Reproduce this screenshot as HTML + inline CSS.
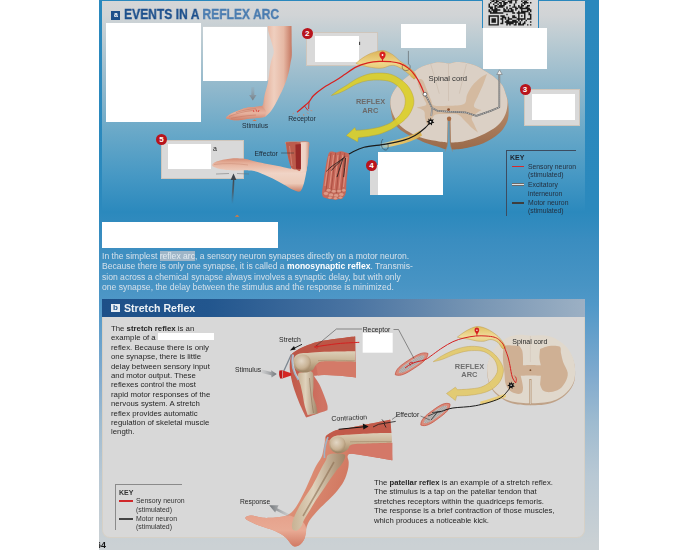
<!DOCTYPE html>
<html><head><meta charset="utf-8">
<style>
*{margin:0;padding:0;box-sizing:border-box}
html,body{width:700px;height:550px;overflow:hidden;background:#fff}
body{position:relative;font-family:"Liberation Sans",sans-serif}
.a{position:absolute}
.w{position:absolute;background:#fff}
.g{position:absolute;background:#d9d9d9;border:1px solid #cfc6bc}
.n{position:absolute;width:11px;height:11px;border-radius:50%;background:#b8141c;color:#fff;font-weight:bold;font-size:8px;line-height:11px;text-align:center}
.lbl{position:absolute;font-size:6.9px;color:#222;white-space:nowrap;line-height:1}
.t{position:absolute;white-space:nowrap;will-change:transform}
svg{will-change:transform}
</style></head><body>
<!-- panel outer -->
<div class="a" style="left:99px;top:0;width:500px;height:550px;background:linear-gradient(to bottom,#2a88bd 0,#2b89bd 212px,#3a8dc0 240px,#4894c4 285px,#5098c8 305px,#80aace 375px,#a0bcd0 425px,#b8c8d4 475px,#cbd1d4 545px)"></div>
<!-- top inner gradient -->
<div class="a" style="left:102px;top:1px;width:483px;height:212px;background:linear-gradient(to bottom,#d5d6d7 0,#d1d4d6 14px,#b8cad2 42px,#9abccd 76px,#68a8c8 132px,#4698c4 175px,#2b89bd 211px)"></div>

<!-- step 2 -->
<div class="g" style="left:305.5px;top:32px;width:72px;height:34px"></div>
<div class="w" style="left:315px;top:35.5px;width:44px;height:26px"></div>
<div class="n" style="left:301.7px;top:28.4px">2</div>
<!-- step 3 -->
<div class="g" style="left:524px;top:88.5px;width:56px;height:37px"></div>
<div class="w" style="left:531.5px;top:94px;width:43.5px;height:25.5px"></div>
<div class="n" style="left:519.5px;top:83.5px">3</div>
<!-- step 4 -->
<div class="a" style="left:370.3px;top:165px;width:8px;height:29.6px;background:#d9d9d9"></div>
<div class="w" style="left:378px;top:152px;width:64.5px;height:42.6px"></div>
<div class="n" style="left:365.9px;top:159.5px">4</div>
<!-- step 5 -->
<div class="g" style="left:161px;top:140px;width:83px;height:38.7px"></div>
<div class="w" style="left:167.7px;top:143.5px;width:43.7px;height:25.5px"></div>
<div class="n" style="left:155.9px;top:134.4px">5</div>
<div class="t" style="left:213px;top:145px;font-size:7px;color:#222">a</div>
<!-- TOP ILLUSTRATION -->
<svg class="a" style="left:0;top:0" width="700" height="550" viewBox="0 0 700 550">
<defs>
<linearGradient id="skin1" gradientUnits="userSpaceOnUse" x1="262" y1="0" x2="292" y2="0">
<stop offset="0" stop-color="#d99a84"/><stop offset="0.12" stop-color="#e6b39e"/><stop offset="0.4" stop-color="#efcfbf"/><stop offset="0.72" stop-color="#e6b8a4"/><stop offset="1" stop-color="#c47660"/>
</linearGradient>
<linearGradient id="hand1" gradientUnits="userSpaceOnUse" x1="0" y1="106" x2="0" y2="120">
<stop offset="0" stop-color="#d8907a"/><stop offset="0.5" stop-color="#e8b4a0"/><stop offset="1" stop-color="#d0806a"/>
</linearGradient>
<linearGradient id="skin2" gradientUnits="userSpaceOnUse" x1="0" y1="158" x2="0" y2="192">
<stop offset="0" stop-color="#d48a72"/><stop offset="0.15" stop-color="#e6b09a"/><stop offset="0.45" stop-color="#f0d4c6"/><stop offset="0.75" stop-color="#eccab8"/><stop offset="1" stop-color="#c87c64"/>
</linearGradient>
<linearGradient id="uarm2" gradientUnits="userSpaceOnUse" x1="298" y1="0" x2="310" y2="0">
<stop offset="0" stop-color="#f0d8cc"/><stop offset="0.6" stop-color="#eed2c4"/><stop offset="1" stop-color="#c88a74"/>
</linearGradient>
<linearGradient id="cordside" x1="0" y1="0" x2="0" y2="1">
<stop offset="0" stop-color="#c4a284"/><stop offset="0.6" stop-color="#b08464"/><stop offset="1" stop-color="#9a6a4a"/>
</linearGradient>
<linearGradient id="garrow" x1="0" y1="0" x2="0" y2="1">
<stop offset="0" stop-color="#9aa0a6" stop-opacity="0.2"/><stop offset="1" stop-color="#767c82"/>
</linearGradient>
<linearGradient id="uparrow" x1="0" y1="1" x2="0" y2="0">
<stop offset="0" stop-color="#4c545c" stop-opacity="0"/><stop offset="0.5" stop-color="#4c545c" stop-opacity="0.8"/><stop offset="1" stop-color="#3c444c"/>
</linearGradient>
<linearGradient id="gang" x1="0" y1="0" x2="0" y2="1">
<stop offset="0" stop-color="#dcb458"/><stop offset="0.45" stop-color="#eed68a"/><stop offset="1" stop-color="#d8b050"/>
</linearGradient>
<linearGradient id="vroot" x1="0" y1="0" x2="1" y2="0">
<stop offset="0" stop-color="#f0e8c8" stop-opacity="0.2"/><stop offset="0.3" stop-color="#e8c870"/><stop offset="1" stop-color="#d8b050"/>
</linearGradient>
</defs>
<!-- arm 1 -->
<rect x="203" y="26.5" width="80" height="54" fill="#d5d5d5"/>
<path d="M267.7 26.0 C267.7 26.0 291.5 26.0 291.5 26.0 C291.5 26.0 291.6 31.3 291.6 34.0 C291.6 36.7 291.6 38.5 291.6 42.0 C291.6 45.5 292.0 51.5 291.8 55.0 C291.6 58.5 290.9 60.5 290.5 63.0 C290.1 65.5 289.8 67.7 289.3 70.0 C288.8 72.3 288.1 74.7 287.4 77.0 C286.7 79.3 285.9 81.7 285.0 84.0 C284.1 86.3 283.0 88.9 282.0 91.0 C281.0 93.1 280.2 94.6 279.1 96.7 C278.1 98.8 277.0 101.3 275.7 103.6 C274.4 105.9 273.1 108.3 271.4 110.4 C269.7 112.5 267.5 115.2 265.4 116.4 C263.3 117.6 261.2 117.3 258.6 117.7 C256.0 118.1 252.9 118.2 250.0 118.6 C247.1 119.0 244.1 119.6 241.4 119.9 C238.7 120.2 235.8 120.5 233.7 120.3 C231.6 120.1 229.9 119.4 228.6 119.0 C227.3 118.6 225.7 118.5 226.0 117.7 C226.3 116.9 228.5 115.0 230.3 113.9 C232.2 112.8 234.5 111.9 237.1 110.9 C239.7 109.9 242.8 108.6 245.7 107.9 C248.6 107.2 251.6 107.3 254.3 107.0 C257.0 106.7 260.4 107.2 262.0 106.1 C263.6 104.9 263.3 101.9 263.7 100.1 C264.1 98.2 264.1 97.0 264.6 95.0 C265.1 93.0 265.9 90.2 266.5 88.0 C267.1 85.8 267.6 84.2 268.0 82.0 C268.4 79.8 268.7 77.5 269.0 75.0 C269.3 72.5 269.6 69.5 270.0 67.0 C270.4 64.5 270.9 62.6 271.5 60.0 C272.1 57.4 273.9 54.8 273.8 51.5 C273.7 48.2 271.8 43.2 270.9 40.0 C270.0 36.8 269.0 34.3 268.5 32.0 C268.0 29.7 267.7 26.0 267.7 26.0Z" fill="url(#skin1)"/>
<path d="M262.0 106.1 C262.0 106.1 257.0 106.7 254.3 107.0 C251.6 107.3 248.6 107.2 245.7 107.9 C242.8 108.6 239.7 109.9 237.1 110.9 C234.5 111.9 232.2 112.8 230.3 113.9 C228.5 115.0 226.3 116.9 226.0 117.7 C225.7 118.5 227.3 118.6 228.6 119.0 C229.9 119.4 231.6 120.1 233.7 120.3 C235.8 120.5 238.7 120.2 241.4 119.9 C244.1 119.6 247.1 119.0 250.0 118.6 C252.9 118.2 256.0 118.1 258.6 117.7 C261.2 117.3 265.4 116.4 265.4 116.4 C265.4 116.4 266.0 111.0 266.0 111.0 C266.0 111.0 262.0 106.1 262.0 106.1Z" fill="url(#hand1)"/>
<path d="M229 116.5 C236 113.5 244 111.5 252 110.5 M231 118.3 C240 116.5 248 115.5 256 115 M236 112.6 C243 110 250 109 256 108.6" stroke="#c0705a" stroke-width="0.45" fill="none"/>
<path d="M253 110 l1 2 M256 109.5 l0.8 2.2 M259 110 l-0.8 2" stroke="#d83030" stroke-width="0.8"/>
<path d="M252.3 121 l4.6 0 l-2.3 -1.6z" fill="#d87040"/>
<!-- gray down arrow -->
<path d="M251.3 87 h3 v8 h2.2 l-3.7 5.5 l-3.7 -5.5 h2.2z" fill="url(#garrow)"/>
<!-- spinal cord 3D -->
<path d="M390.6 99.0 C390.0 102.3 390.2 106.0 390.8 110.0 C391.4 114.0 392.2 119.2 394.3 122.9 C396.4 126.6 399.0 129.0 403.6 132.1 C408.2 135.2 416.2 138.9 422.1 141.4 C428.0 143.9 434.9 145.7 438.9 147.0 C442.9 148.3 444.6 149.3 446.3 149.5 C448.0 149.7 448.4 148.0 449.3 148.0 C450.2 148.0 449.0 149.5 451.9 149.5 C454.8 149.5 461.4 148.9 466.7 147.9 C471.9 146.9 478.1 145.6 483.4 143.3 C488.7 141.0 494.6 137.1 498.3 134.0 C502.0 130.9 504.0 127.8 505.7 124.7 C507.4 121.6 508.1 119.2 508.5 115.4 C508.9 111.6 508.5 105.6 508.0 102.0 C507.5 98.4 506.7 96.8 505.7 94.0 C504.7 91.2 504.1 88.0 502.1 85.1 C500.1 82.2 496.5 79.0 493.6 76.6 C490.8 74.2 487.9 72.7 485.0 70.9 C482.1 69.1 479.5 67.2 476.4 65.9 C473.3 64.6 469.7 63.6 466.4 63.0 C463.1 62.4 459.3 61.9 456.4 62.0 C453.5 62.1 451.9 63.5 449.0 63.5 C446.1 63.5 442.4 62.3 439.3 62.3 C436.2 62.3 433.6 63.0 430.7 63.7 C427.8 64.4 424.7 65.4 422.1 66.6 C419.5 67.8 417.1 69.5 415.0 70.9 C412.9 72.3 411.6 73.2 409.3 75.1 C407.0 76.9 403.5 79.5 401.0 82.0 C398.5 84.5 396.2 87.2 394.5 90.0 C392.8 92.8 391.2 95.7 390.6 99.0Z" fill="url(#cordside)"/>
<path d="M390.6 99.0 C390.1 102.3 390.3 105.9 391.5 109.9 C392.7 113.9 395.1 119.2 398.0 122.9 C400.9 126.6 404.8 129.5 409.1 132.1 C413.4 134.7 419.0 137.0 424.0 138.6 C429.0 140.2 435.0 140.8 438.9 141.4 C442.8 142.0 447.5 142.4 447.5 142.4 C447.5 142.4 447.8 118.0 447.8 118.0 C447.8 118.0 450.5 118.0 450.5 118.0 C450.5 118.0 450.9 142.4 450.9 142.4 C450.9 142.4 458.5 142.3 463.0 141.4 C467.5 140.5 473.3 138.7 477.9 136.8 C482.5 135.0 487.1 132.6 490.8 130.3 C494.5 128.0 497.6 125.7 500.1 122.9 C502.6 120.1 504.4 117.0 505.7 113.6 C506.9 110.2 507.6 105.7 507.6 102.4 C507.6 99.1 506.6 96.9 505.7 94.0 C504.8 91.1 504.1 88.0 502.1 85.1 C500.1 82.2 496.5 79.0 493.6 76.6 C490.8 74.2 487.9 72.7 485.0 70.9 C482.1 69.1 479.5 67.2 476.4 65.9 C473.3 64.6 469.7 63.6 466.4 63.0 C463.1 62.4 459.3 61.9 456.4 62.0 C453.5 62.1 451.9 63.5 449.0 63.5 C446.1 63.5 442.4 62.3 439.3 62.3 C436.2 62.3 433.6 63.0 430.7 63.7 C427.8 64.4 424.7 65.4 422.1 66.6 C419.5 67.8 417.1 69.5 415.0 70.9 C412.9 72.3 411.6 73.2 409.3 75.1 C407.0 76.9 403.5 79.5 401.0 82.0 C398.5 84.5 396.2 87.2 394.5 90.0 C392.8 92.8 391.1 95.7 390.6 99.0Z" fill="#dbd0c5"/>
<path d="M419.5 79.0 C419.5 79.0 421.8 78.7 423.0 80.5 C424.2 82.3 425.7 86.8 427.0 90.0 C428.3 93.2 429.8 97.4 431.0 100.0 C432.2 102.6 431.0 104.5 434.0 105.5 C437.0 106.5 444.0 106.0 449.0 105.8 C454.0 105.5 461.0 105.8 464.0 104.0 C467.0 102.2 465.7 98.0 467.0 95.0 C468.3 92.0 469.8 88.8 472.0 86.0 C474.2 83.2 477.5 80.0 480.0 78.0 C482.5 76.0 487.0 74.0 487.0 74.0 C487.0 74.0 484.5 81.3 483.0 85.0 C481.5 88.7 479.5 92.4 478.0 96.0 C476.5 99.6 473.4 104.2 474.0 106.5 C474.6 108.8 481.5 110.0 481.5 110.0 C481.5 110.0 473.2 114.7 472.0 117.0 C470.8 119.3 473.0 121.4 474.0 124.0 C475.0 126.6 478.0 132.5 478.0 132.5 C478.0 132.5 474.2 129.9 472.0 128.0 C469.8 126.1 467.3 123.2 465.0 121.0 C462.7 118.8 460.7 115.7 458.0 114.5 C455.3 113.3 452.7 114.0 449.0 114.0 C445.3 114.0 438.8 113.7 436.0 114.5 C433.2 115.3 433.4 117.1 432.0 119.0 C430.6 120.9 427.5 126.0 427.5 126.0 C427.5 126.0 425.6 120.5 425.0 118.0 C424.4 115.5 425.4 112.8 424.0 111.0 C422.6 109.2 416.5 107.5 416.5 107.5 C416.5 107.5 424.7 106.2 426.0 105.0 C427.3 103.8 425.3 102.2 424.5 100.0 C423.7 97.8 422.2 95.0 421.0 92.0 C419.8 89.0 417.8 84.2 417.5 82.0 C417.2 79.8 419.5 79.0 419.5 79.0Z" fill="#d2b496" opacity="0.8"/>
<path d="M430.7 64 L439.3 93.7 M448.5 64 L448.5 101 M466.4 64 L459.3 93.7" stroke="#c6b6a6" stroke-width="0.5"/>
<circle cx="448.6" cy="109.6" r="1.4" fill="#8a5030"/>
<ellipse cx="449.1" cy="118.8" rx="2.2" ry="2.4" fill="#a86c44"/>
<path d="M448.1 121 L449.7 121 L450 142 L450.8 146.5 L452.6 151.5 L445.2 151.5 L447 146.5 L447.7 142 Z" fill="#5ca2c8"/>
<path d="M452.6 151.5 L450.8 146.5 L450 142 L449.7 121 M448.1 121 L447.7 142 L447 146.5 L445.2 151.5" stroke="#a88060" stroke-width="0.5" fill="none"/>
<!-- dorsal root ganglion -->
<path d="M355.9 63.4 C355.9 63.4 359.7 59.9 362.1 58.3 C364.5 56.7 367.2 54.9 370.1 53.7 C373.0 52.5 376.8 51.4 379.3 50.9 C381.8 50.4 382.7 50.2 385.0 50.9 C387.3 51.6 390.5 53.2 393.0 54.9 C395.5 56.6 397.6 59.3 399.9 61.1 C402.2 62.9 404.6 64.2 406.7 65.7 C408.8 67.2 410.8 68.7 412.4 70.3 C413.9 71.9 415.7 74.0 416.0 75.5 C416.3 77.0 415.2 79.2 414.0 79.0 C412.8 78.8 411.0 76.0 409.0 74.3 C407.0 72.6 404.4 70.5 402.1 69.1 C399.8 67.7 397.4 66.3 395.3 65.7 C393.2 65.1 391.3 65.4 389.6 65.7 C387.9 66.0 386.7 67.0 385.0 67.4 C383.3 67.8 381.6 68.3 379.3 68.3 C377.0 68.3 374.0 67.8 371.3 67.4 C368.6 67.0 365.9 66.4 363.3 65.7 C360.7 65.0 355.9 63.4 355.9 63.4Z" fill="url(#gang)" stroke="#c49a46" stroke-width="0.5"/>
<rect x="359.2" y="41.8" width="0.9" height="3.2" fill="#222"/>
<path d="M408.4 50.9 L408.4 64.6 M403 64 C401 68 403 71 407 70.5 C410 70 411 67 409.5 64.5" stroke="#444" stroke-width="0.5" fill="none"/>
<!-- ventral root -->
<path d="M380 143.5 C390 141.5 400 139 409 136 C413 134.5 417 132.5 420 130.5 L422 135.5 C418 138 414 140 410 141.5 C401 144.5 391 147 380 148.5 Z" fill="url(#vroot)"/>
<path d="M383 139 C380 142 381 149 385 150 C388 150.5 389 147 387.5 143" stroke="#333" stroke-width="0.5" fill="none"/>
<!-- yellow arc -->
<path d="M331.4 95.5 C331.4 95.5 335.7 92.0 338.0 90.5 C340.3 89.0 341.9 88.2 345.0 86.3 C348.1 84.4 352.6 80.9 356.4 78.9 C360.2 76.9 364.1 75.3 367.9 74.3 C371.7 73.3 375.5 73.1 379.3 73.1 C383.1 73.1 387.3 73.3 390.7 74.3 C394.1 75.3 397.2 77.2 399.9 78.9 C402.6 80.6 404.8 82.5 406.7 84.6 C408.6 86.7 410.1 89.1 411.3 91.4 C412.5 93.7 413.2 96.4 413.6 98.3 C414.0 100.2 413.9 101.7 413.8 103.0 C413.7 104.3 413.6 105.0 413.1 106.4 C412.6 107.8 411.8 110.0 411.0 111.5 C410.2 113.0 409.5 114.3 408.6 115.6 C407.7 116.8 406.6 117.9 405.5 119.0 C404.4 120.1 403.2 121.2 401.7 122.4 C400.2 123.6 398.2 124.8 396.5 126.0 C394.8 127.2 393.2 128.3 391.4 129.3 C389.6 130.3 387.6 131.0 385.7 131.8 C383.8 132.6 381.9 133.3 380.0 133.9 C378.1 134.5 376.2 134.9 374.3 135.3 C372.4 135.7 370.4 136.1 368.6 136.4 C366.8 136.7 365.2 136.8 363.5 137.0 C361.8 137.2 358.3 137.5 358.3 137.5 C358.3 137.5 357.7 141.9 357.7 141.9 C357.7 141.9 346.3 135.6 346.3 135.6 C346.3 135.6 354.9 127.6 354.9 127.6 C354.9 127.6 356.0 130.4 356.0 130.4 C356.0 130.4 359.9 130.2 362.0 130.0 C364.1 129.8 366.6 129.6 368.6 129.3 C370.7 129.0 372.4 128.7 374.3 128.3 C376.2 127.9 378.2 127.5 380.0 127.0 C381.8 126.5 383.5 125.9 385.2 125.2 C386.9 124.5 388.7 124.0 390.3 123.0 C391.9 122.0 393.5 120.7 395.0 119.5 C396.5 118.3 398.1 117.0 399.4 115.6 C400.6 114.2 401.6 112.5 402.5 111.0 C403.4 109.5 404.1 108.2 404.6 106.4 C405.1 104.7 405.3 102.2 405.3 100.5 C405.3 98.8 405.0 97.4 404.5 96.0 C404.0 94.6 403.5 93.5 402.5 92.0 C401.5 90.5 400.7 88.6 398.7 86.9 C396.7 85.2 393.9 82.9 390.7 81.7 C387.5 80.5 383.1 80.2 379.3 80.0 C375.5 79.8 371.7 79.9 367.9 80.6 C364.1 81.3 360.2 82.4 356.4 84.0 C352.6 85.6 348.1 88.7 345.0 90.3 C341.9 91.9 340.3 92.6 338.0 93.5 C335.7 94.4 331.4 95.5 331.4 95.5Z" fill="#dccf2c" stroke="#b8a028" stroke-width="0.5" opacity="0.93"/>
<!-- sensory line (red) -->
<path d="M297.0 112.3 C297.8 111.6 300.0 109.8 302.0 108.0 C304.0 106.2 307.1 103.9 309.0 101.8 C310.9 99.7 311.3 97.8 313.6 95.5 C315.9 93.2 318.9 90.8 322.7 88.2 C326.5 85.6 332.7 82.3 336.4 80.0 C340.1 77.7 341.7 76.5 345.0 74.3 C348.3 72.1 352.6 68.8 356.4 66.9 C360.2 65.0 364.1 63.8 367.9 62.9 C371.7 62.0 375.5 61.6 379.3 61.4 C383.1 61.2 387.3 61.4 390.7 61.7 C394.1 62.0 396.8 62.2 399.9 63.4 C402.9 64.5 406.3 66.4 409.0 68.6 C411.7 70.8 414.0 73.9 415.9 76.6 C417.8 79.3 419.0 81.9 420.4 84.6 C421.8 87.3 423.4 91.6 424.0 93.0" stroke="#d8201e" stroke-width="1.2" fill="none"/>
<path d="M304.5 106 L308 110.5 M309 101.8 L308.6 109" stroke="#d8201e" stroke-width="0.9" fill="none"/>
<path d="M294 113 l-1.5 1 M299 114 l-0.3 2 M303.5 114 l0.5 2 M307 112.5 l1.5 1.5 M310.5 110.5 l1.8 0.3" stroke="#d88060" stroke-width="0.7"/>
<path d="M382.5 61.4 L382.5 58" stroke="#d8201e" stroke-width="1"/>
<path d="M382.5 51.6 C385.8 51.6 386.3 55.4 384.7 57.5 L382.5 60.3 L380.3 57.5 C378.7 55.4 379.2 51.6 382.5 51.6 Z" fill="#d8201e"/>
<circle cx="382.5" cy="55" r="0.9" fill="#fff"/>
<!-- interneuron -->
<path d="M425 94.4 L427.9 99.4 L432.1 108 L437.9 110.9 L447.9 111.6 L465 112.3 L476.4 115.9 L490.7 110.9 L499.3 107.3 L499.3 73.5" stroke="#6a6a6a" stroke-width="1.7" fill="none" stroke-linejoin="round"/>
<path d="M425 94.4 L427.9 99.4 L432.1 108 L437.9 110.9 L447.9 111.6 L465 112.3 L476.4 115.9 L490.7 110.9 L499.3 107.3 L499.3 73.5" stroke="#dcdcdc" stroke-width="0.7" fill="none" stroke-dasharray="1.3 0.7" stroke-linejoin="round"/>
<path d="M432.1 108 L431.3 116" stroke="#6a6a6a" stroke-width="1.6"/>
<path d="M432.1 108 L431.3 116" stroke="#ddd" stroke-width="0.6"/>
<path d="M496.8 74.5 L499.5 69.8 L502.2 74.5 Z" fill="#eee" stroke="#666" stroke-width="0.5"/>
<circle cx="425" cy="94.2" r="1.9" fill="#fff" stroke="#333" stroke-width="0.6"/>
<!-- motor neuron -->
<path d="M430.5 121.8 C429.6 122.8 427.6 125.7 425.0 128.0 C422.4 130.3 418.5 133.5 415.0 135.5 C411.5 137.5 408.9 138.7 404.0 140.1 C399.1 141.5 392.4 142.9 385.7 144.1 C379.0 145.3 369.8 145.8 364.0 147.3 C358.2 148.8 354.0 151.4 350.9 152.9 C347.8 154.4 346.1 156.0 345.2 156.6" stroke="#1a1a1a" stroke-width="1.1" fill="none"/>
<!-- muscle bundle -->
<path d="M328.5 154.0 C329.6 151.2 330.7 151.8 332.0 151.5 C333.3 151.2 335.1 152.6 336.5 152.5 C337.9 152.4 339.1 151.2 340.5 151.2 C341.9 151.1 343.5 151.6 345.0 152.2 C346.5 152.8 348.8 152.4 349.3 155.0 C349.8 157.6 348.5 163.5 348.0 168.0 C347.5 172.5 346.9 177.7 346.5 182.0 C346.1 186.3 346.4 191.2 345.5 194.0 C344.6 196.8 342.9 197.7 341.0 198.6 C339.1 199.5 336.3 199.2 334.0 199.2 C331.7 199.2 328.9 199.2 327.0 198.5 C325.1 197.8 322.9 197.8 322.3 195.0 C321.7 192.2 323.0 186.5 323.5 182.0 C324.0 177.5 324.7 172.7 325.5 168.0 C326.3 163.3 327.4 156.8 328.5 154.0Z" fill="#c8685a"/>
<path d="M331 153 L325.5 194 M335.7 152.6 L330.5 196 M340.3 152 L336 197 M344.8 153 L341 196.5" stroke="#a44a3c" stroke-width="0.8"/>
<path d="M329.2 156 L325 186 M333.6 155 L329.5 188 M338 155 L334 189 M342.7 155 L339 189 M347 157 L343.5 187" stroke="#e29c8a" stroke-width="1.1" opacity="0.8"/>
<g fill="#de9a88" stroke="#b05a4a" stroke-width="0.4">
<ellipse cx="326" cy="193.5" rx="2.6" ry="2"/><ellipse cx="331" cy="195" rx="2.6" ry="2"/><ellipse cx="336.2" cy="195.6" rx="2.6" ry="2"/><ellipse cx="341.3" cy="194.6" rx="2.6" ry="2"/>
<ellipse cx="328.6" cy="190.2" rx="2.4" ry="1.8"/><ellipse cx="333.8" cy="191.2" rx="2.4" ry="1.8"/><ellipse cx="339" cy="191" rx="2.4" ry="1.8"/><ellipse cx="343.8" cy="190.3" rx="2.2" ry="1.7"/>
<ellipse cx="330" cy="197.6" rx="2.2" ry="1.5"/><ellipse cx="335.5" cy="198.2" rx="2.2" ry="1.5"/><ellipse cx="340.5" cy="197.5" rx="2.2" ry="1.5"/>
</g>
<path d="M345.2 156.6 C344.0 157.5 340.4 160.3 338.0 162.0 C335.6 163.7 332.9 165.4 331.0 167.0 C329.1 168.6 327.2 170.7 326.4 171.4 M343.5 158 C339 163 334 167 331.3 170.6 M343 158.5 C341 164 339 171 337 177.1 M345.5 158 C345 164 344.5 171 343.6 177.1" stroke="#1a1a1a" stroke-width="0.8" fill="none"/>
<path d="M430.5 117.6 l1 2.1 l2.3 -0.5 l-1.1 2 l1.7 1.6 l-2.3 0.5 l-0.2 2.3 l-1.5 -1.7 l-2 1.1 l0.2 -2.3 l-2.1 -0.9 l2.1 -1 l-0.3 -2.3 l1.8 1.4z" fill="#111"/>
<circle cx="430.5" cy="121.8" r="0.9" fill="#fff"/>
<!-- arm 2 -->
<path d="M285.8 142.1 C287.6 141.4 293.2 141.6 297.0 141.6 C300.8 141.6 306.8 140.7 308.7 142.1 C310.6 143.5 308.7 147.6 308.6 150.0 C308.5 152.4 308.4 154.5 308.2 156.8 C308.0 159.1 307.8 161.6 307.5 164.0 C307.2 166.4 307.0 168.0 306.5 171.0 C306.0 174.0 305.1 178.8 304.3 181.9 C303.5 185.0 302.5 187.9 301.6 189.5 C300.7 191.1 300.4 191.7 298.9 191.7 C297.3 191.7 294.9 190.7 292.3 189.5 C289.8 188.3 286.9 186.4 283.6 184.6 C280.3 182.8 276.3 180.4 272.7 178.6 C269.1 176.8 264.9 175.0 261.8 173.7 C258.7 172.4 256.4 171.6 254.2 171.0 C252.0 170.4 250.7 170.5 248.7 170.4 C246.7 170.3 244.1 170.4 242.0 170.4 C239.9 170.4 238.7 170.5 236.0 170.4 C233.3 170.3 229.2 170.3 226.0 169.9 C222.8 169.5 219.3 168.9 217.0 168.2 C214.7 167.5 212.7 166.7 212.3 165.8 C211.9 164.9 213.1 163.5 214.4 162.6 C215.7 161.7 218.1 161.1 220.0 160.6 C221.9 160.1 223.8 159.7 226.0 159.3 C228.2 158.9 231.0 158.4 233.3 158.3 C235.6 158.2 237.9 158.4 240.0 158.5 C242.1 158.6 244.2 158.6 246.0 158.9 C247.8 159.2 248.9 159.7 250.6 160.2 C252.3 160.7 253.6 161.1 256.4 161.7 C259.2 162.3 263.7 163.2 267.3 163.9 C270.9 164.6 274.8 165.4 278.2 166.1 C281.6 166.8 285.8 168.0 288.0 168.3 C290.2 168.6 291.3 169.6 291.3 167.7 C291.3 165.8 288.8 160.4 288.0 156.8 C287.2 153.2 286.7 148.4 286.3 145.9 C285.9 143.4 284.0 142.8 285.8 142.1Z" fill="url(#skin2)"/>
<path d="M300.5 142.2 L308.7 142.1 L308.5 156.8 L306.5 171 L300.5 172 Z" fill="url(#uarm2)"/>
<path d="M286.0 142.3 C286.0 142.3 290.6 142.0 293.0 142.0 C295.4 142.0 300.5 142.3 300.5 142.3 C300.5 142.3 300.8 151.4 300.8 156.0 C300.8 160.6 301.3 167.8 300.5 170.0 C299.7 172.2 297.5 169.9 296.0 169.5 C294.5 169.1 292.6 169.8 291.3 167.7 C290.0 165.6 288.8 160.4 288.0 156.8 C287.2 153.2 286.6 148.3 286.3 145.9 C286.0 143.5 286.0 142.3 286.0 142.3Z" fill="#bc5c4c"/>
<path d="M295.4 144.4 L300.9 144 L300.9 169 L296 168.8 Z" fill="#982a28"/>
<path d="M289.5 146 L292 166" stroke="#d88878" stroke-width="0.8"/>
<path d="M214 164.5 C225 163 238 163.5 248 165" stroke="#c88a74" stroke-width="0.5" fill="none"/>
<!-- effector leader -->
<path d="M281 153 L294 153" stroke="#333" stroke-width="0.5"/>
<!-- dashes + up arrow -->
<path d="M216 174 L229 173.5 M237 173.5 L249 174" stroke="#6a6a6a" stroke-width="0.5"/>
<path d="M231.7 204 C231.5 196 232.5 186 233 179 L234.3 179 C234.4 186 233.4 196 233.2 204 Z" fill="url(#uparrow)"/>
<path d="M230.6 180 L233.5 173.5 L236.4 180 Z" fill="#3c444c"/>
<path d="M234.8 216.8 l4.6 0 l-2.3 -2z" fill="#e07a3a"/>
<!-- labels -->
<g font-family="Liberation Sans" fill="#1e2a36">
<text x="242" y="127.8" font-size="6.8">Stimulus</text>
<text x="288.2" y="120.5" font-size="6.8">Receptor</text>
<text x="254.4" y="155.5" font-size="6.86">Effector</text>
<text x="428.6" y="80.9" font-size="7.7" fill="#333">Spinal cord</text>
</g>
<g font-family="Liberation Sans" font-weight="bold" fill="#6c6a6a" font-size="7.4" text-anchor="middle">
<text x="370.5" y="104.4">REFLEX</text>
<text x="370.3" y="112.7">ARC</text>
</g>
</svg>

<!-- title -->
<div class="a" style="left:111px;top:11px;width:9px;height:8.5px;background:#1d4f8b"></div>
<div class="t" style="left:113.5px;top:11px;font-size:7px;color:#fff;font-weight:bold;line-height:8px">a</div>
<div class="t" style="left:123.6px;top:4.6px;font-size:15.3px;font-weight:bold;line-height:17px;transform-origin:0 0;transform:scaleX(0.79);color:#1c4f8c;-webkit-text-stroke:0.35px #1c4f8c">EVENTS IN A <span style="color:#4a7cb0;-webkit-text-stroke:0.35px #4a7cb0">REFLEX ARC</span></div>
<!-- QR -->
<div class="a" style="left:482px;top:0;width:57px;height:27.5px;background:#d8d8d8;border-left:1.5px solid #2a88c0;border-right:1.5px solid #2a88c0"></div>
<svg class="a" style="left:0;top:0" width="700" height="40" viewBox="0 0 700 40"><path d="M489.98 -1.02h1.48v1.48h-1.48zM492.94 -1.02h4.44v1.48h-4.44zM498.86 -1.02h2.96v1.48h-2.96zM504.78 -1.02h1.48v1.48h-1.48zM510.70 -1.02h7.40v1.48h-7.40zM522.54 -1.02h1.48v1.48h-1.48zM526.98 -1.02h1.48v1.48h-1.48zM491.46 0.46h2.96v1.48h-2.96zM495.90 0.46h2.96v1.48h-2.96zM501.82 0.46h2.96v1.48h-2.96zM507.74 0.46h4.44v1.48h-4.44zM515.14 0.46h1.48v1.48h-1.48zM521.06 0.46h1.48v1.48h-1.48zM524.02 0.46h2.96v1.48h-2.96zM489.98 1.94h1.48v1.48h-1.48zM494.42 1.94h2.96v1.48h-2.96zM498.86 1.94h2.96v1.48h-2.96zM503.30 1.94h4.44v1.48h-4.44zM509.22 1.94h2.96v1.48h-2.96zM515.14 1.94h1.48v1.48h-1.48zM522.54 1.94h5.92v1.48h-5.92zM529.94 1.94h1.48v1.48h-1.48zM488.50 3.42h1.48v1.48h-1.48zM492.94 3.42h1.48v1.48h-1.48zM497.38 3.42h1.48v1.48h-1.48zM500.34 3.42h1.48v1.48h-1.48zM503.30 3.42h2.96v1.48h-2.96zM513.66 3.42h1.48v1.48h-1.48zM521.06 3.42h1.48v1.48h-1.48zM524.02 3.42h1.48v1.48h-1.48zM488.50 4.90h1.48v1.48h-1.48zM494.42 4.90h2.96v1.48h-2.96zM498.86 4.90h5.92v1.48h-5.92zM509.22 4.90h1.48v1.48h-1.48zM513.66 4.90h1.48v1.48h-1.48zM518.10 4.90h1.48v1.48h-1.48zM521.06 4.90h2.96v1.48h-2.96zM526.98 4.90h2.96v1.48h-2.96zM488.50 6.38h4.44v1.48h-4.44zM494.42 6.38h1.48v1.48h-1.48zM497.38 6.38h5.92v1.48h-5.92zM506.26 6.38h1.48v1.48h-1.48zM512.18 6.38h4.44v1.48h-4.44zM518.10 6.38h4.44v1.48h-4.44zM525.50 6.38h2.96v1.48h-2.96zM489.98 7.86h2.96v1.48h-2.96zM494.42 7.86h2.96v1.48h-2.96zM503.30 7.86h1.48v1.48h-1.48zM506.26 7.86h1.48v1.48h-1.48zM509.22 7.86h2.96v1.48h-2.96zM515.14 7.86h2.96v1.48h-2.96zM519.58 7.86h10.36v1.48h-10.36zM488.50 9.34h1.48v1.48h-1.48zM491.46 9.34h8.88v1.48h-8.88zM503.30 9.34h2.96v1.48h-2.96zM507.74 9.34h1.48v1.48h-1.48zM510.70 9.34h2.96v1.48h-2.96zM515.14 9.34h1.48v1.48h-1.48zM521.06 9.34h1.48v1.48h-1.48zM526.98 9.34h4.44v1.48h-4.44zM488.50 10.82h2.96v1.48h-2.96zM492.94 10.82h4.44v1.48h-4.44zM503.30 10.82h10.36v1.48h-10.36zM518.10 10.82h1.48v1.48h-1.48zM521.06 10.82h7.40v1.48h-7.40zM529.94 10.82h1.48v1.48h-1.48zM489.98 12.30h13.32v1.48h-13.32zM512.18 12.30h2.96v1.48h-2.96zM516.62 12.30h8.88v1.48h-8.88zM528.46 12.30h1.48v1.48h-1.48zM506.26 13.78h1.48v1.48h-1.48zM518.10 13.78h1.48v1.48h-1.48zM524.02 13.78h1.48v1.48h-1.48zM528.46 13.78h2.96v1.48h-2.96zM488.50 15.26h10.36v1.48h-10.36zM500.34 15.26h4.44v1.48h-4.44zM512.18 15.26h2.96v1.48h-2.96zM518.10 15.26h1.48v1.48h-1.48zM521.06 15.26h1.48v1.48h-1.48zM524.02 15.26h1.48v1.48h-1.48zM529.94 15.26h1.48v1.48h-1.48zM488.50 16.74h1.48v1.48h-1.48zM497.38 16.74h1.48v1.48h-1.48zM501.82 16.74h4.44v1.48h-4.44zM507.74 16.74h1.48v1.48h-1.48zM512.18 16.74h4.44v1.48h-4.44zM518.10 16.74h1.48v1.48h-1.48zM524.02 16.74h1.48v1.48h-1.48zM529.94 16.74h1.48v1.48h-1.48zM488.50 18.22h1.48v1.48h-1.48zM491.46 18.22h4.44v1.48h-4.44zM497.38 18.22h1.48v1.48h-1.48zM500.34 18.22h2.96v1.48h-2.96zM504.78 18.22h1.48v1.48h-1.48zM507.74 18.22h4.44v1.48h-4.44zM516.62 18.22h8.88v1.48h-8.88zM526.98 18.22h4.44v1.48h-4.44zM488.50 19.70h1.48v1.48h-1.48zM491.46 19.70h4.44v1.48h-4.44zM497.38 19.70h1.48v1.48h-1.48zM501.82 19.70h1.48v1.48h-1.48zM506.26 19.70h2.96v1.48h-2.96zM512.18 19.70h4.44v1.48h-4.44zM518.10 19.70h1.48v1.48h-1.48zM521.06 19.70h1.48v1.48h-1.48zM525.50 19.70h1.48v1.48h-1.48zM488.50 21.18h1.48v1.48h-1.48zM491.46 21.18h4.44v1.48h-4.44zM497.38 21.18h1.48v1.48h-1.48zM501.82 21.18h1.48v1.48h-1.48zM504.78 21.18h13.32v1.48h-13.32zM519.58 21.18h1.48v1.48h-1.48zM524.02 21.18h1.48v1.48h-1.48zM529.94 21.18h1.48v1.48h-1.48zM488.50 22.66h1.48v1.48h-1.48zM497.38 22.66h1.48v1.48h-1.48zM500.34 22.66h2.96v1.48h-2.96zM506.26 22.66h7.40v1.48h-7.40zM515.14 22.66h1.48v1.48h-1.48zM518.10 22.66h2.96v1.48h-2.96zM522.54 22.66h2.96v1.48h-2.96zM488.50 24.14h10.36v1.48h-10.36zM506.26 24.14h1.48v1.48h-1.48zM509.22 24.14h1.48v1.48h-1.48zM513.66 24.14h2.96v1.48h-2.96zM518.10 24.14h5.92v1.48h-5.92zM526.98 24.14h1.48v1.48h-1.48zM529.94 24.14h1.48v1.48h-1.48z" fill="#1a1a1a"/></svg>
<!-- white boxes -->
<div class="w" style="left:106px;top:23px;width:95px;height:99px"></div>
<div class="w" style="left:203px;top:26.5px;width:64px;height:54px"></div>
<div class="w" style="left:401px;top:24px;width:64.5px;height:23.5px"></div>
<div class="w" style="left:482.5px;top:27.5px;width:64.5px;height:41px"></div>
<!-- box E -->
<div class="w" style="left:102px;top:222px;width:176px;height:25.7px"></div>
<!-- paragraph -->
<div class="t" style="left:102px;top:250.5px;font-size:8.58px;line-height:10.3px;color:#d4e0ea">In the simplest <span style="background:#9fb6c8;color:#e4ecf2">reflex arc</span>, a sensory neuron synapses directly on a motor neuron.<br>Because there is only one synapse, it is called a <b style="color:#fff">monosynaptic reflex</b>. Transmis-<br>sion across a chemical synapse always involves a synaptic delay, but with only<br>one synapse, the delay between the stimulus and the response is minimized.</div>

<!-- KEY top -->
<div class="a" style="left:506px;top:150px;width:69.5px;height:66px;border-left:1px solid #3c4c60;border-top:1px solid #3c4c60"></div>
<div class="t" style="left:510px;top:153.5px;font-size:7px;font-weight:bold;color:#1e2530">KEY</div>
<div class="a" style="left:511.5px;top:165.8px;width:12.5px;height:1.5px;background:#d8282a"></div>
<div class="a" style="left:511.5px;top:183.3px;width:12.5px;height:2.8px;background:#6a6a6a"></div><div class="a" style="left:512px;top:184.2px;width:11.5px;height:1px;background:#e0e0e0"></div>
<div class="a" style="left:511.5px;top:201.7px;width:12.5px;height:2.2px;background:#3e3e3e"></div>
<div class="t" style="left:528px;top:162.5px;font-size:6.8px;line-height:8px;color:#243040">Sensory neuron<br>(stimulated)</div>
<div class="t" style="left:528px;top:180.5px;font-size:6.8px;line-height:8.6px;color:#243040">Excitatory<br>interneuron</div>
<div class="t" style="left:528px;top:198.8px;font-size:6.8px;line-height:8.1px;color:#243040">Motor neuron<br>(stimulated)</div>

<!-- header b -->
<div class="a" style="left:102px;top:299px;width:483px;height:18px;background:linear-gradient(to right,#1d4f88 0,#22568e 22%,#4a74a2 52%,#7896b4 78%,#9cb0c4 100%)"></div>
<div class="a" style="left:111.4px;top:303.7px;width:8.6px;height:8.4px;background:#e6ecf2"></div>
<div class="t" style="left:113px;top:302.8px;font-size:8px;font-weight:bold;color:#1d5590;line-height:9px">b</div>
<div class="t" style="left:124px;top:301.5px;font-size:10.6px;font-weight:bold;color:#eef2f6;line-height:12px">Stretch Reflex</div>
<!-- lower rounded box -->
<div class="a" style="left:102px;top:317px;width:483px;height:220.5px;background:#d8d8d8;border:1px solid #d6d0c6;border-top:none;border-radius:0 0 8px 8px"></div>
<svg class="a" style="left:0;top:0" width="700" height="550" viewBox="0 0 700 550">
<defs>
<linearGradient id="mus1" x1="0" y1="0" x2="0" y2="1">
<stop offset="0" stop-color="#b24c3e"/><stop offset="0.35" stop-color="#c8604e"/><stop offset="0.6" stop-color="#d68070"/><stop offset="1" stop-color="#c66a58"/>
</linearGradient>
<linearGradient id="shin1" x1="0" y1="0" x2="1" y2="0">
<stop offset="0" stop-color="#c05848"/><stop offset="0.5" stop-color="#d07464"/><stop offset="1" stop-color="#c66654"/>
</linearGradient>
<linearGradient id="bone" x1="0" y1="0" x2="0" y2="1">
<stop offset="0" stop-color="#dccfb8"/><stop offset="0.5" stop-color="#c6b090"/><stop offset="1" stop-color="#9c8262"/>
</linearGradient>
<linearGradient id="boneV" x1="0" y1="0" x2="1" y2="0">
<stop offset="0" stop-color="#c8b294"/><stop offset="0.4" stop-color="#dfd2bc"/><stop offset="1" stop-color="#a08466"/>
</linearGradient>
<radialGradient id="cond" cx="0.4" cy="0.4" r="0.65">
<stop offset="0" stop-color="#e2d6c4"/><stop offset="0.7" stop-color="#c8b294"/><stop offset="1" stop-color="#a88e6e"/>
</radialGradient>
<linearGradient id="leg2" x1="0" y1="0" x2="1" y2="0.3">
<stop offset="0" stop-color="#cc6e58"/><stop offset="0.45" stop-color="#de9278"/><stop offset="1" stop-color="#c86450"/>
</linearGradient>
<linearGradient id="gang2" x1="0" y1="0" x2="0" y2="1">
<stop offset="0" stop-color="#e0c060"/><stop offset="0.45" stop-color="#f0dc9c"/><stop offset="1" stop-color="#dcbc5c"/>
</linearGradient>
<linearGradient id="foot" gradientUnits="userSpaceOnUse" x1="0" y1="515" x2="0" y2="546">
<stop offset="0" stop-color="#e6a28c"/><stop offset="0.5" stop-color="#e8aa94"/><stop offset="1" stop-color="#d27c66"/>
</linearGradient>
<linearGradient id="stimar" x1="0" y1="0" x2="1" y2="0">
<stop offset="0" stop-color="#a0a4a8" stop-opacity="0.2"/><stop offset="1" stop-color="#6e7276"/>
</linearGradient>
<linearGradient id="respar" x1="1" y1="0" x2="0" y2="0">
<stop offset="0" stop-color="#a0a4a8" stop-opacity="0.2"/><stop offset="1" stop-color="#6e7276"/>
</linearGradient>
</defs>
<!-- knee 1 -->
<path d="M291.4 354.5 C292.9 353.0 296.2 350.6 299.5 348.8 C302.8 347.0 306.9 345.3 311.0 343.9 C315.1 342.5 319.2 341.6 324.1 340.6 C329.0 339.7 335.3 338.9 340.5 338.2 C345.7 337.5 355.2 336.5 355.2 336.5 C355.2 336.5 356.0 377.5 356.0 377.5 C356.0 377.5 345.8 376.2 340.5 375.8 C335.2 375.4 328.2 375.0 324.1 375.0 C320.0 375.0 317.5 375.5 315.9 375.8 C314.3 376.1 313.8 375.2 314.3 376.6 C314.9 378.0 317.6 380.9 319.2 384.0 C320.8 387.1 322.7 391.9 324.1 395.5 C325.5 399.1 326.8 402.9 327.4 405.3 C327.9 407.8 327.4 410.2 327.4 410.2 C327.4 410.2 306.1 417.6 306.1 417.6 C306.1 417.6 301.4 408.1 299.5 403.6 C297.6 399.1 296.0 394.7 294.6 390.6 C293.2 386.5 292.2 382.9 291.4 379.1 C290.6 375.3 289.8 371.2 289.7 367.6 C289.6 364.1 290.2 360.0 290.5 357.8 C290.8 355.6 289.9 356.0 291.4 354.5Z" fill="url(#shin1)"/>
<path d="M291.4 354.5 C292.2 353.1 296.2 350.6 299.5 348.8 C302.8 347.0 306.9 345.3 311.0 343.9 C315.1 342.5 319.2 341.6 324.1 340.6 C329.0 339.7 335.3 338.9 340.5 338.2 C345.7 337.5 355.2 336.5 355.2 336.5 C355.2 336.5 355.2 351.3 355.2 351.3 C355.2 351.3 345.9 351.4 340.0 351.5 C334.1 351.6 325.4 351.8 320.0 352.0 C314.6 352.2 311.0 352.6 307.7 352.9 C304.4 353.1 302.2 352.8 300.0 353.5 C297.8 354.2 295.9 356.8 294.5 357.0 C293.1 357.2 290.6 355.9 291.4 354.5Z" fill="#bc5646"/>
<path d="M356 361.9 L356 377.5 L340.5 375.8 L324.1 375 L318 375.5 L316 365 L322 361.5 L340 361.5 Z" fill="#d47a68"/>
<path d="M297.9 374.2 C298.6 372.0 302.6 372.3 305.0 372.0 C307.4 371.7 311.2 370.4 312.6 372.6 C314.0 374.8 313.4 381.2 313.5 385.0 C313.6 388.8 312.6 392.2 313.0 395.5 C313.4 398.8 315.2 402.0 316.0 405.0 C316.8 408.0 317.6 413.5 317.6 413.5 C317.6 413.5 307.7 415.1 307.7 415.1 C307.7 415.1 305.3 408.3 304.5 405.0 C303.7 401.7 303.5 398.8 302.8 395.5 C302.1 392.2 301.3 388.6 300.5 385.0 C299.7 381.4 297.1 376.4 297.9 374.2Z" fill="url(#boneV)"/>
<path d="M309.5 378 C310.5 390 311.5 402 313.5 413" stroke="#8a6e54" stroke-width="0.9" fill="none" opacity="0.6"/>
<path d="M307.7 352.9 C311.0 352.6 314.6 352.2 320.0 352.0 C325.4 351.8 334.1 351.6 340.0 351.5 C345.9 351.4 355.2 351.3 355.2 351.3 C355.2 351.3 355.2 361.9 355.2 361.9 C355.2 361.9 345.5 361.6 340.0 361.5 C334.5 361.4 326.0 360.9 322.0 361.5 C318.0 362.1 317.6 363.6 316.0 365.0 C314.4 366.4 314.3 368.8 312.6 370.0 C310.9 371.2 308.4 372.3 306.0 372.5 C303.6 372.7 300.1 372.2 298.0 371.0 C295.9 369.8 294.1 367.3 293.5 365.0 C292.9 362.7 293.4 358.9 294.5 357.0 C295.6 355.1 297.8 354.2 300.0 353.5 C302.2 352.8 304.4 353.1 307.7 352.9Z" fill="url(#bone)"/>
<path d="M318 360.6 C330 360 342 360.3 355 360.8" stroke="#9a7e60" stroke-width="0.8" fill="none" opacity="0.6"/>
<circle cx="303" cy="362.5" r="8" fill="url(#cond)"/>
<path d="M292.8 354.4 C291.5 362 293 372 298.6 379.9" stroke="#9fb2c4" stroke-width="2" fill="none"/>
<path d="M293.3 355 C292.3 362 293.6 371 298.6 378.6" stroke="#dde4ea" stroke-width="0.6" fill="none"/>
<path d="M314.3 347.2 C315.9 346.9 319.7 346.1 324.1 345.5 C328.5 344.9 334.6 343.9 340.5 343.4 C346.4 342.9 356.2 342.5 359.3 342.3" stroke="#d42020" stroke-width="1" fill="none"/>
<path d="M314.5 347 C316 344.5 319 345 318 347.5 C317 349 315 348.5 316 346.5" stroke="#d42020" stroke-width="0.6" fill="none"/>
<path d="M316 346 L336.4 329 L362 329" stroke="#333" stroke-width="0.5" fill="none"/>
<!-- hammer -->
<path d="M283.7 371.2 L291.3 354.4" stroke="#7c8690" stroke-width="1.3"/>
<path d="M282.3 370.2 L291.3 373.2 L291.3 375.6 L282.3 378.6 Z" fill="#d42624"/>
<path d="M279.4 370.6 C278.8 373 279 376 280.2 378.6 L282.6 378.6 L282.6 370.2 Z" fill="#c01818"/>
<path d="M282.5 370.4 L282.5 378.4" stroke="#c8ccd0" stroke-width="0.6"/>
<!-- stimulus arrow -->
<path d="M261.5 369.6 L271.3 372 L271 370.2 L276.8 374.1 L271.6 377.5 L271.2 375.3 L261.5 372.9 Z" fill="url(#stimar)"/>
<!-- stretch arrow -->
<path d="M302 344.3 L293.5 348.6" stroke="#111" stroke-width="0.9"/>
<path d="M289.9 350.5 L294 346 L295.6 349.6 Z" fill="#111"/>
<!-- leg 2 -->
<path d="M325.9 436.2 C327.5 434.3 331.3 432.0 334.6 430.7 C337.9 429.4 340.1 429.7 345.5 428.6 C350.9 427.5 359.8 425.7 367.3 424.2 C374.8 422.7 390.3 419.8 390.3 419.8 C390.3 419.8 392.4 460.2 392.4 460.2 C392.4 460.2 374.0 457.0 367.3 455.9 C360.6 454.8 355.3 453.7 352.0 453.7 C348.7 453.7 348.2 454.5 347.7 455.9 C347.1 457.3 348.7 459.7 348.7 462.0 C348.7 464.3 348.7 466.6 347.9 469.8 C347.1 473.0 345.9 477.5 343.8 481.3 C341.8 485.1 338.6 489.1 335.6 492.7 C332.6 496.2 329.1 499.3 325.8 502.6 C322.5 505.9 318.7 509.4 316.0 512.4 C313.3 515.4 311.1 517.9 309.5 520.6 C307.9 523.3 307.0 525.7 306.2 528.7 C305.4 531.7 305.6 535.9 304.5 538.6 C303.4 541.3 301.5 543.9 299.6 545.1 C297.7 546.3 295.5 547.2 293.1 545.9 C290.7 544.5 288.0 539.5 285.0 537.0 C282.0 534.5 279.3 532.9 275.0 531.0 C270.7 529.1 263.5 527.2 259.0 525.5 C254.5 523.8 250.2 521.8 248.0 520.5 C245.8 519.2 245.0 518.3 245.5 517.5 C246.0 516.7 248.1 515.6 251.0 515.6 C253.9 515.6 259.0 517.5 263.0 517.8 C267.0 518.1 271.7 517.7 275.0 517.5 C278.3 517.3 281.1 516.8 283.0 516.5 C284.9 516.2 284.8 516.6 286.5 515.6 C288.2 514.6 290.9 513.1 293.1 510.7 C295.3 508.2 297.4 504.7 299.6 500.9 C301.8 497.1 304.0 492.4 306.2 487.8 C308.4 483.2 311.1 476.7 312.7 473.1 C314.3 469.5 314.5 468.7 316.0 466.0 C317.5 463.3 320.2 459.8 321.5 457.0 C322.8 454.2 322.9 451.5 323.5 449.0 C324.1 446.5 324.4 444.1 324.8 442.0 C325.2 439.9 324.3 438.1 325.9 436.2Z" fill="url(#leg2)"/>
<path d="M289.0 515.6 C286.8 515.4 285.3 516.2 283.0 516.5 C280.7 516.8 278.3 517.3 275.0 517.5 C271.7 517.7 267.0 518.1 263.0 517.8 C259.0 517.5 253.9 515.6 251.0 515.6 C248.1 515.6 246.0 516.7 245.5 517.5 C245.0 518.3 245.8 519.2 248.0 520.5 C250.2 521.8 254.5 523.8 259.0 525.5 C263.5 527.2 270.7 529.1 275.0 531.0 C279.3 532.9 282.0 534.5 285.0 537.0 C288.0 539.5 290.7 544.5 293.1 545.9 C295.5 547.2 297.7 546.3 299.6 545.1 C301.5 543.9 303.4 541.3 304.5 538.6 C305.6 535.9 306.4 531.5 306.2 528.7 C305.9 525.9 304.7 523.8 303.0 522.0 C301.3 520.2 298.3 519.1 296.0 518.0 C293.7 516.9 291.2 515.9 289.0 515.6Z" fill="url(#foot)"/>
<path d="M325.9 436.2 C326.8 434.6 331.3 432.0 334.6 430.7 C337.9 429.4 340.1 429.7 345.5 428.6 C350.9 427.5 359.8 425.7 367.3 424.2 C374.8 422.7 390.3 419.8 390.3 419.8 C390.3 419.8 391.5 432.9 391.5 432.9 C391.5 432.9 378.0 433.1 370.0 433.5 C362.0 433.9 349.1 434.7 343.3 435.1 C337.5 435.5 337.4 435.2 335.0 436.0 C332.6 436.8 330.5 440.0 329.0 440.0 C327.5 440.0 325.0 437.8 325.9 436.2Z" fill="#c25a4a"/>
<path d="M392.4 442.8 L392.4 460.2 L367.3 455.9 L352 453.7 L349 454 L348 449 L352 444.5 L370 443.5 Z" fill="#d47868"/>
<path d="M328.0 455.0 C329.7 453.9 333.2 453.5 336.0 453.5 C338.8 453.5 343.9 453.4 345.0 455.0 C346.1 456.6 344.0 460.3 342.5 463.0 C341.0 465.7 338.2 468.0 336.0 471.0 C333.8 474.0 331.2 477.8 329.0 481.0 C326.8 484.2 325.2 486.8 323.0 490.0 C320.8 493.2 318.2 496.7 316.0 500.0 C313.8 503.3 312.0 506.7 310.0 510.0 C308.0 513.3 305.4 517.3 304.0 520.0 C302.6 522.7 302.7 524.2 301.5 526.0 C300.3 527.8 298.5 530.0 297.0 530.5 C295.5 531.0 293.0 530.5 292.3 528.7 C291.6 527.0 291.9 523.6 293.0 520.0 C294.1 516.4 297.0 510.8 299.0 507.0 C301.0 503.2 303.0 500.2 305.0 497.0 C307.0 493.8 309.0 491.3 311.0 488.0 C313.0 484.7 315.2 480.5 317.0 477.0 C318.8 473.5 320.5 469.8 322.0 467.0 C323.5 464.2 325.0 462.0 326.0 460.0 C327.0 458.0 326.3 456.1 328.0 455.0Z" fill="url(#boneV)"/>
<path d="M334 462 C326 476 316 494 303 516" stroke="#8a6e52" stroke-width="1.6" fill="none" opacity="0.6"/>
<path d="M343.3 435.1 C349.5 434.5 362.0 433.9 370.0 433.5 C378.0 433.1 391.5 432.9 391.5 432.9 C391.5 432.9 392.0 442.8 392.0 442.8 C392.0 442.8 376.7 443.2 370.0 443.5 C363.3 443.8 355.7 443.6 352.0 444.5 C348.3 445.4 349.5 447.7 348.0 449.0 C346.5 450.3 345.0 451.8 343.0 452.5 C341.0 453.2 338.1 453.6 336.0 453.0 C333.9 452.4 331.6 450.8 330.5 449.0 C329.4 447.2 329.1 444.0 329.5 442.0 C329.9 440.0 330.7 438.1 333.0 437.0 C335.3 435.9 337.1 435.7 343.3 435.1Z" fill="url(#bone)"/>
<path d="M350 441.8 C362 441.5 376 441.4 391.5 441.6" stroke="#9a7e60" stroke-width="0.8" fill="none" opacity="0.6"/>
<circle cx="338" cy="444" r="7.6" fill="url(#cond)"/>
<path d="M328 437 C325 444 324 452 324.5 458" stroke="#9fb2c4" stroke-width="1.6" fill="none"/>
<!-- contraction arrow -->
<path d="M338.6 429.3 L364 426.8" stroke="#111" stroke-width="1"/>
<path d="M368.6 426.4 L362.8 423.6 L363.4 429.4 Z" fill="#111"/>
<path d="M395.7 421.4 L378.6 424.3 M385 423 L382 419.5 M384 423.5 L386 427.5 M378.6 424.3 L373 427" stroke="#1a1a1a" stroke-width="0.8" fill="none"/>
<path d="M392 419.5 L400 413.5" stroke="#333" stroke-width="0.5"/>
<!-- response arrow -->
<path d="M289.5 514.2 L277.2 508.3 L278.6 505.2 L269.2 505.3 L275.2 512.6 L276.1 510.6 L288.3 516.8 Z" fill="url(#respar)"/>
<!-- spindle 1 -->
<g transform="translate(411.6 364.1) rotate(-33)">
<path d="M-19.5 0 C-16 -4.6 -10 -4.9 0 -4.9 C10 -4.9 16 -4.6 19.5 0 C16 4.6 10 4.9 0 4.9 C-10 4.9 -16 4.6 -19.5 0 Z" fill="#da8a7a" stroke="#c45444" stroke-width="0.7"/>
<path d="M-15.5 0 C-12.5 -3 -8 -3.2 0 -3.2 C8 -3.2 12.5 -3 15.5 0 C12.5 3 8 3.2 0 3.2 C-8 3.2 -12.5 3 -15.5 0 Z" fill="#c4c0be"/>
<path d="M-13 -1.9 L13 -1.9 M-14.5 -0.6 L14.5 -0.6 M-14.5 0.7 L14.5 0.7 M-13 2 L13 2" stroke="#8a8a8a" stroke-width="0.45"/>
</g>
<!-- spindle 2 -->
<g transform="translate(435.4 414.5) rotate(-36)">
<path d="M-18 0 C-15 -4.6 -9 -4.9 0 -4.9 C9 -4.9 15 -4.6 18 0 C15 4.6 9 4.9 0 4.9 C-9 4.9 -15 4.6 -18 0 Z" fill="#da8a7a" stroke="#c45444" stroke-width="0.7"/>
<path d="M-14.5 0 C-11.5 -3 -7 -3.2 0 -3.2 C7 -3.2 11.5 -3 14.5 0 C11.5 3 7 3.2 0 3.2 C-7 3.2 -11.5 3 -14.5 0 Z" fill="#c4c0be"/>
<path d="M-12 -1.9 L12 -1.9 M-13.5 -0.6 L13.5 -0.6 M-13.5 0.7 L13.5 0.7 M-12 2 L12 2" stroke="#8a8a8a" stroke-width="0.45"/>
</g>
<path d="M393.5 329.5 L398.5 329.5 L414 358.5" stroke="#333" stroke-width="0.5" fill="none"/>
<path d="M420.5 416 L430 420" stroke="#333" stroke-width="0.5"/>
<!-- lower spinal cord -->
<path d="M530.4 337.0 C534.6 337.1 540.2 336.4 544.6 337.0 C549.0 337.6 552.8 338.7 556.5 340.7 C560.2 342.7 564.3 345.9 567.0 349.0 C569.7 352.1 571.5 355.6 572.9 359.3 C574.2 363.0 575.0 367.2 575.1 371.2 C575.2 375.2 575.1 379.5 573.7 383.2 C572.4 386.9 569.9 390.6 567.0 393.6 C564.1 396.6 560.2 399.2 556.5 401.0 C552.8 402.8 548.6 403.8 544.6 404.5 C540.6 405.2 535.4 405.2 532.7 405.3 C530.0 405.4 530.7 405.4 528.2 405.3 C525.7 405.2 521.5 405.2 517.8 404.5 C514.1 403.8 509.5 402.8 505.8 401.0 C502.1 399.2 498.1 396.3 495.4 393.6 C492.7 390.9 490.9 388.1 489.5 384.6 C488.1 381.1 487.4 376.2 487.2 372.7 C486.9 369.2 487.1 367.0 488.0 363.8 C488.9 360.6 490.4 356.5 492.4 353.3 C494.4 350.1 497.2 346.9 499.9 344.4 C502.6 341.9 505.6 339.8 508.8 338.4 C512.0 337.0 515.7 336.4 519.3 336.2 C522.9 336.0 526.2 336.9 530.4 337.0Z" fill="#bfa288"/>
<path d="M530.4 335.5 C534.6 335.6 540.2 334.9 544.6 335.5 C549.0 336.1 552.8 337.2 556.5 339.2 C560.2 341.2 564.3 344.3 567.0 347.4 C569.7 350.5 571.5 354.1 572.9 357.8 C574.2 361.5 575.0 365.7 575.1 369.7 C575.2 373.7 575.1 378.0 573.7 381.7 C572.4 385.4 569.9 389.1 567.0 392.1 C564.1 395.1 560.2 397.8 556.5 399.5 C552.8 401.2 548.6 401.9 544.6 402.5 C540.6 403.1 535.4 403.2 532.7 403.3 C530.0 403.4 530.7 403.4 528.2 403.3 C525.7 403.2 521.5 403.1 517.8 402.5 C514.1 401.9 509.5 401.2 505.8 399.5 C502.1 397.8 498.1 394.8 495.4 392.1 C492.7 389.4 490.9 386.6 489.5 383.1 C488.1 379.6 487.4 374.7 487.2 371.2 C486.9 367.7 487.1 365.5 488.0 362.3 C488.9 359.1 490.4 355.0 492.4 351.8 C494.4 348.6 497.2 345.4 499.9 342.9 C502.6 340.4 505.6 338.3 508.8 336.9 C512.0 335.5 515.7 334.9 519.3 334.7 C522.9 334.5 526.2 335.4 530.4 335.5Z" fill="#e0d8cc"/>
<path d="M504.4 346.6 C505.9 344.6 509.5 345.6 512.0 345.5 C514.5 345.4 519.3 345.9 519.3 345.9 C519.3 345.9 521.6 348.4 522.2 350.4 C522.8 352.4 522.9 355.5 523.0 358.0 C523.1 360.5 523.0 365.3 523.0 365.3 C523.0 365.3 527.9 365.0 530.4 365.0 C532.9 365.0 536.2 365.2 538.0 365.3 C539.8 365.4 540.9 365.3 540.9 365.3 C540.9 365.3 539.5 360.5 539.4 357.8 C539.3 355.1 540.1 348.9 540.1 348.9 C540.1 348.9 545.9 346.3 549.1 345.9 C552.3 345.5 557.5 345.4 559.5 346.6 C561.5 347.8 560.4 350.7 561.0 353.3 C561.6 355.9 562.1 359.1 563.2 362.3 C564.3 365.5 567.3 369.5 567.7 372.7 C568.1 375.9 566.9 379.0 565.5 381.7 C564.1 384.4 562.0 387.4 559.5 389.1 C557.0 390.8 553.3 391.9 550.6 392.1 C547.9 392.4 544.9 391.9 543.1 390.6 C541.4 389.4 540.1 384.6 540.1 384.6 C540.1 384.6 540.9 375.7 540.9 375.7 C540.9 375.7 530.4 375.5 530.4 375.5 C530.4 375.5 520.7 375.7 520.7 375.7 C520.7 375.7 523.0 384.6 523.0 387.6 C523.0 390.6 522.6 392.9 520.7 393.6 C518.8 394.4 514.3 393.6 511.8 392.1 C509.3 390.6 507.0 387.8 505.8 384.6 C504.6 381.4 504.9 377.2 504.4 372.7 C503.9 368.2 502.9 362.1 502.9 357.8 C502.9 353.5 502.9 348.7 504.4 346.6Z" fill="#cfb094"/>
<path d="M530.4 336 L530.4 362" stroke="#cfc3b6" stroke-width="0.5"/>
<circle cx="530.4" cy="370.2" r="0.9" fill="#7a5030"/>
<path d="M530.4 379 L530.4 404" stroke="#b89878" stroke-width="2.2"/>
<path d="M530.4 380 L530.4 404" stroke="#ded6ca" stroke-width="0.8"/>
<!-- lower ganglion -->
<path d="M457.4 337.1 C457.4 337.1 462.8 332.8 466.0 331.0 C469.2 329.2 473.4 326.9 476.9 326.6 C480.4 326.3 483.8 327.6 487.0 329.0 C490.2 330.4 493.8 332.9 496.3 334.9 C498.8 336.9 500.5 339.0 502.0 341.0 C503.5 343.0 505.4 345.8 505.5 347.0 C505.6 348.2 503.8 349.2 502.5 348.5 C501.2 347.8 499.9 344.0 498.0 342.5 C496.1 341.0 493.3 339.7 491.0 339.5 C488.7 339.3 486.3 340.9 484.0 341.2 C481.7 341.4 479.5 341.3 477.0 341.0 C474.5 340.7 471.5 339.6 469.0 339.2 C466.5 338.8 463.9 338.6 462.0 338.3 C460.1 338.0 457.4 337.1 457.4 337.1Z" fill="url(#gang2)" stroke="#b89848" stroke-width="0.5"/>
<!-- lower ventral root -->
<path d="M480.3 401.5 C488 399.5 496 397 505.4 393.5 L506 397 C497 400.5 488 403 480.3 404.8 Z" fill="#e8cc78"/>
<!-- lower arc -->
<path d="M433.2 361.7 C433.2 361.7 439.0 357.4 442.7 355.4 C446.4 353.4 451.1 351.1 455.4 349.6 C459.6 348.1 463.9 346.9 468.2 346.5 C472.4 346.1 477.1 346.3 480.9 347.1 C484.7 347.9 488.1 349.5 491.1 351.5 C494.1 353.5 496.7 356.4 498.7 359.2 C500.7 362.0 502.6 365.4 503.2 368.1 C503.8 370.9 503.2 373.2 502.5 375.7 C501.8 378.2 500.6 381.0 498.7 383.3 C496.8 385.6 494.1 388.0 491.1 389.7 C488.1 391.4 484.7 392.6 480.9 393.5 C477.1 394.4 472.2 395.0 468.2 395.4 C464.2 395.8 456.7 395.8 456.7 395.8 C456.7 395.8 455.4 400.5 455.4 400.5 C455.4 400.5 446.5 393.5 446.5 393.5 C446.5 393.5 455.4 387.2 455.4 387.2 C455.4 387.2 457.4 389.7 457.4 389.7 C457.4 389.7 464.3 389.5 468.2 389.1 C472.1 388.7 477.3 388.4 480.9 387.2 C484.5 386.0 487.2 384.2 489.8 382.1 C492.4 380.0 494.9 376.7 496.2 374.4 C497.5 372.1 497.6 370.4 497.4 368.1 C497.2 365.8 496.4 362.7 494.9 360.4 C493.4 358.1 490.8 355.7 488.5 354.1 C486.2 352.5 484.3 351.4 480.9 350.9 C477.5 350.4 472.4 350.4 468.2 350.9 C463.9 351.4 459.6 352.7 455.4 354.1 C451.1 355.5 446.4 357.9 442.7 359.2 C439.0 360.5 433.2 361.7 433.2 361.7Z" fill="#e4ca6a" stroke="#bf9f48" stroke-width="0.5" opacity="0.9"/>
<!-- lower red -->
<path d="M430.0 356.6 C432.0 355.2 438.2 350.5 442.0 348.0 C445.8 345.5 449.2 343.4 452.9 341.7 C456.6 340.0 460.2 338.9 464.0 338.0 C467.8 337.1 472.0 336.3 475.7 336.0 C479.4 335.7 482.9 335.8 486.0 336.0 C489.1 336.2 491.9 336.5 494.0 337.1 C496.1 337.7 497.1 338.2 498.6 339.4 C500.1 340.5 501.9 342.3 503.0 344.0 C504.1 345.7 504.6 347.5 505.4 349.7 C506.2 351.9 507.2 354.3 508.0 357.0 C508.8 359.7 509.3 362.3 510.0 365.7 C510.7 369.1 511.3 374.2 512.3 377.1 C513.2 380.0 515.1 381.9 515.7 382.9 M405 368 C410 364 414 362.5 418 361.5 C423 360.5 427 359.6 430 356.6 M412.9 362.9 C410 361 408 364 411 365" stroke="#d42020" stroke-width="1" fill="none"/>
<path d="M515.7 382.9 C517 380 516.5 377 514.5 376" stroke="#d42020" stroke-width="0.8" fill="none"/>
<path d="M476.9 327.6 C479.4 327.6 479.8 330.6 478.5 332.2 L476.9 334.4 L475.3 332.2 C474 330.6 474.4 327.6 476.9 327.6 Z" fill="#d42020"/><circle cx="476.9" cy="330.3" r="0.7" fill="#fff"/>
<path d="M476.9 333 L476.9 336" stroke="#d42020" stroke-width="0.8"/>
<!-- lower black -->
<path d="M511.1 385.1 C510.5 386.1 509.8 388.6 507.7 390.9 C505.6 393.2 503.9 396.4 498.6 398.9 C493.3 401.4 483.3 404.2 475.7 405.7 C468.1 407.2 458.6 407.1 452.9 408.0 C447.2 408.9 444.0 410.7 441.4 411.4 C438.8 412.1 438.1 411.9 437.5 412.0" stroke="#1a1a1a" stroke-width="1" fill="none"/>
<path d="M437.5 412 L428 416 M441 411.5 L432 412.5 M437.5 412 L431 420" stroke="#1a1a1a" stroke-width="0.7"/>
<path d="M511.1 381.5 l1 2 l2.2 -0.4 l-1.1 1.9 l1.6 1.5 l-2.2 0.4 l-0.2 2.2 l-1.4 -1.7 l-1.9 1.1 l0.1 -2.2 l-2 -0.9 l2 -0.9 l-0.3 -2.2 l1.8 1.3z" fill="#111"/>
<circle cx="511.1" cy="385.3" r="0.7" fill="#fff"/>
<!-- white box receptor -->
<rect x="362.7" y="332.9" width="30" height="19.8" fill="#fff"/>
<!-- labels -->
<g font-family="Liberation Sans" fill="#262626">
<text x="279.1" y="342.3" font-size="6.88">Stretch</text>
<text x="235" y="371.8" font-size="6.8">Stimulus</text>
<text x="362.7" y="332" font-size="6.8">Receptor</text>
<text x="331.4" y="420.2" font-size="6.98" transform="rotate(-3 349 418)">Contraction</text>
<text x="395.7" y="417.4" font-size="6.86">Effector</text>
<text x="240" y="503.6" font-size="6.7">Response</text>
<text x="512.3" y="344" font-size="7">Spinal cord</text>
</g>
<g font-family="Liberation Sans" font-weight="bold" fill="#6e6e6e" font-size="7.45" text-anchor="middle">
<text x="469.5" y="368.5">REFLEX</text>
<text x="469.4" y="376.5">ARC</text>
</g>
</svg>
<!-- lower text -->
<div class="t" style="left:111.3px;top:324.2px;font-size:7.8px;line-height:9.4px;color:#262626">The <b>stretch reflex</b> is an<br>example of a<br>reflex. Because there is only<br>one synapse, there is little<br>delay between sensory input<br>and motor output. These<br>reflexes control the most<br>rapid motor responses of the<br>nervous system. A stretch<br>reflex provides automatic<br>regulation of skeletal muscle<br>length.</div>
<div class="w" style="left:158px;top:333.4px;width:56px;height:7.1px"></div>
<!-- patellar text -->
<div class="t" style="left:374.4px;top:477.8px;font-size:7.72px;line-height:9.4px;color:#262626">The <b>patellar reflex</b> is an example of a stretch reflex.<br>The stimulus is a tap on the patellar tendon that<br>stretches receptors within the quadriceps femoris.<br>The response is a brief contraction of those muscles,<br>which produces a noticeable kick.</div>
<!-- KEY bottom -->
<div class="a" style="left:114.7px;top:484.3px;width:67.4px;height:45.4px;border-left:1px solid #8a8a8a;border-top:1px solid #8a8a8a"></div>
<div class="t" style="left:119px;top:488.6px;font-size:7px;font-weight:bold;color:#333">KEY</div>
<div class="a" style="left:119.3px;top:500.3px;width:13.6px;height:1.6px;background:#d0282a"></div>
<div class="a" style="left:119.3px;top:518px;width:13.6px;height:1.8px;background:#444"></div>
<div class="t" style="left:136.4px;top:497px;font-size:6.9px;line-height:8.7px;color:#333">Sensory neuron<br>(stimulated)</div>
<div class="t" style="left:136.4px;top:514.6px;font-size:6.9px;line-height:8.1px;color:#333">Motor neuron<br>(stimulated)</div>
<!-- page num -->
<div class="a" style="left:99px;top:536px;width:10px;height:14px;overflow:hidden"><div class="t" style="left:-3.4px;top:5.3px;font-size:8.8px;line-height:8.8px;font-weight:bold;color:#111">64</div></div>
</body></html>
